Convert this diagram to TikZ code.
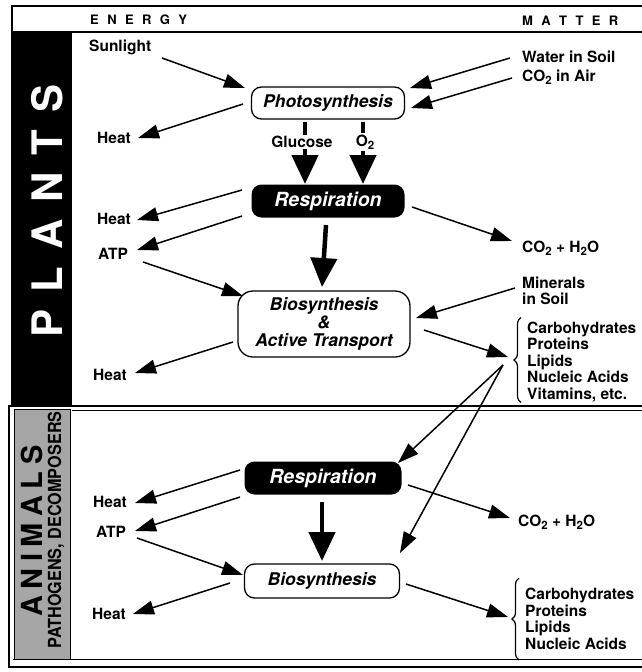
\documentclass[tikz,border=0pt]{standalone}
\usepackage{fontspec}
\setmainfont{TeX Gyre Heros}
\usetikzlibrary{arrows.meta,calc,decorations.pathreplacing}
\newcommand\subtwo{\raisebox{-0.35ex}{\fontsize{11.5}{11.5}\selectfont 2}}
\begin{document}
\begin{tikzpicture}[x=1pt,y=-1pt,
 lbl/.style={font=\fontsize{15.5}{16.6}\selectfont\bfseries, inner sep=0pt, anchor=west, align=left},
 head/.style={font=\fontsize{13}{14}\selectfont\bfseries, inner sep=0pt, anchor=west},
 wbox/.style={draw, line width=1.3pt, rounded corners=10pt, inner sep=0pt, fill=white, font=\fontsize{17.5}{18}\selectfont\bfseries\itshape, align=center},
 bbox/.style={fill=black, rounded corners=10pt, inner sep=0pt, text=white, font=\fontsize{19.5}{20}\selectfont\bfseries\itshape},
 arr/.style={-{Triangle[length=21pt,width=14pt]}, line width=1.5pt},
 bigarr/.style={-{Triangle[length=29pt,width=26pt]}, line width=4.5pt},
 curly/.style={decorate, decoration={brace, amplitude=7pt}, line width=1.2pt},
 cover/.style={lbl, anchor=center, fill=white, inner sep=1.5pt},
]
\fill[white] (0,0) rectangle (642,672);
\useasboundingbox (0,0) rectangle (642,672);
% frame
\draw[line width=2pt] (12,6) -- (642,6);
\draw[line width=1.5pt] (12,32) -- (642,32);
\draw[line width=1.5pt] (12,5) -- (12,406);
\fill[black] (12,32) rectangle (72,406);
\draw[line width=2.5pt] (9,406) -- (642,406);
\draw[line width=1pt] (72,410) -- (642,410);
\draw[line width=1pt] (13,659) -- (642,659);
\draw[line width=2.5pt] (8,667) -- (642,667);
\draw[line width=1.5pt] (9,405) -- (9,668);
\filldraw[fill=black!35, draw=black, line width=1pt] (14,409) rectangle (70,659);
% headers
\node[head] (energy) at (90,20) {E\hspace{8.4pt}N\hspace{8.4pt}E\hspace{8.4pt}R\hspace{8.4pt}G\hspace{8.4pt}Y};
\node[head] (matter) at (522,21) {M\hspace{8.4pt}A\hspace{8.4pt}T\hspace{8.4pt}T\hspace{8.4pt}E\hspace{8.4pt}R};
\node[rotate=90, text=white, font=\fontsize{42}{42}\selectfont\bfseries, inner sep=0pt] (plants) at (47,211) {P\hspace{17pt}L\hspace{17pt}A\hspace{17pt}N\hspace{17pt}T\hspace{17pt}S};
\node[rotate=90, font=\fontsize{29}{29}\selectfont\bfseries, inner sep=0pt] (animals) at (32,531) {A\hspace{6.5pt}N\hspace{6.5pt}I\hspace{6.5pt}M\hspace{6.5pt}A\hspace{6.5pt}L\hspace{6.5pt}S};
\node[rotate=90, font=\fontsize{18}{18}\selectfont\bfseries, inner sep=0pt] (patho) at (56,530) {\scalebox{0.9}[1]{PATHOGENS, DECOMPOSERS}};
% plant labels
\node[lbl] (sun) at (89,47) {Sunlight};
\node[lbl] (water) at (522,57) {Water in Soil};
\node[lbl] (co2air) at (522,77) {CO\subtwo\ in Air};
\node[lbl] (heat1) at (97,138) {Heat};
\node[lbl] (heat2) at (97,219) {Heat};
\node[lbl] (atp1) at (98,254) {ATP};
\node[lbl] (out1) at (522,248) {CO\subtwo\ + H\subtwo O};
\node[lbl] (minerals) at (522,291) {Minerals\\in Soil};
\node[lbl] (list1) at (527,362) {Carbohydrates\\Proteins\\Lipids\\Nucleic Acids\\Vitamins, etc.};
\node[lbl] (heat3) at (93,375) {Heat};
% plant boxes
\node[wbox, minimum width=153pt, minimum height=32pt] (photo) at (328,103) {Photosynthesis};
\node[bbox, minimum width=153pt, minimum height=33pt] (resp1) at (328,201) {Respiration};
\node[wbox, minimum width=172pt, minimum height=66pt, rounded corners=15pt] (bio1) at (324,324) {Biosynthesis\\\&\\Active Transport};
% animal labels
\node[lbl] (heat4) at (93,502) {Heat};
\node[lbl] (atp2) at (96,532) {ATP};
\node[lbl] (out2) at (518,522) {CO\subtwo\ + H\subtwo O};
\node[lbl] (heat5) at (92,614) {Heat};
\node[lbl] (list2) at (525,619) {Carbohydrates\\Proteins\\Lipids\\Nucleic Acids};
% animal boxes
\node[bbox, minimum width=157pt, minimum height=33pt] (resp2) at (323,478) {Respiration};
\node[wbox, minimum width=155pt, minimum height=34pt] (bio2) at (322,581) {Biosynthesis};
% braces
\draw[curly] ($(list1.south west)+(-6,0)$) -- ($(list1.north west)+(-6,-4)$);
\draw[curly] ($(list2.south west)+(-6,10)$) -- ($(list2.north west)+(-6,-10)$);
% plant arrows
\draw[arr] ($(sun.west)+(73,11)$) -- ($(photo.center)+(-83,-15)$);
\draw[arr] ($(water.west)+(-12,1)$) -- ($(photo.center)+(82,-15)$);
\draw[arr] ($(co2air.west)+(-10,1)$) -- ($(photo.center)+(83,5)$);
\draw[arr] ($(photo.center)+(-85,1)$) -- ($(heat1.west)+(41,0)$);
\draw[bigarr] ($(photo.center)+(-23,19)$) -- ($(resp1.center)+(-23,-17)$);
\draw[bigarr] ($(photo.center)+(35,19)$) -- ($(resp1.center)+(35,-17)$);
\node[cover] (gluc) at (302,142) {Glucose};
\node[cover] (otwo) at (365,142) {O\subtwo};
\draw[arr] ($(resp1.center)+(-86,-11)$) -- ($(heat2.west)+(40,1)$);
\draw[arr] ($(resp1.center)+(-86,15)$) -- ($(atp1.west)+(39,-4)$);
\draw[arr] ($(resp1.center)+(84,6)$) -- ($(out1.west)+(-10,-7)$);
\draw[bigarr] ($(resp1.center)+(-2,24)$) -- ($(bio1.center)+(-2,-37)$);
\draw[arr] ($(atp1.west)+(45,8)$) -- ($(bio1.center)+(-81,-28)$);
\draw[arr] ($(minerals.west)+(-7,-3)$) -- ($(bio1.center)+(92,-6)$);
\draw[arr] ($(bio1.center)+(100,6)$) -- ($(list1.west)+(-19,-5)$);
\draw[arr] ($(bio1.center)+(-91,18)$) -- ($(heat3.west)+(42,-2)$);
% cross arrows
\coordinate (src) at ($(list1.west)+(-24,3)$);
\draw[arr] (src) -- ($(resp2.center)+(75,-15)$);
\draw[arr] (src) -- ($(bio2.center)+(78,-28)$);
% animal arrows
\draw[arr] ($(resp2.center)+(-83,-8)$) -- ($(heat4.west)+(42,1)$);
\draw[arr] ($(resp2.center)+(-83,19)$) -- ($(atp2.west)+(39,-1)$);
\draw[arr] ($(atp2.west)+(41,6)$) -- ($(bio2.center)+(-79,-6)$);
\draw[arr] ($(bio2.center)+(-92,2)$) -- ($(heat5.west)+(41,0)$);
\draw[bigarr] ($(resp2.center)+(-1,24)$) -- ($(bio2.center)+(0,-20)$);
\draw[arr] ($(resp2.center)+(85,7)$) -- ($(out2.west)+(-8,-4)$);
\draw[arr] ($(bio2.center)+(84,3)$) -- ($(list2.west)+(-17,-2)$);
\end{tikzpicture}
\end{document}
